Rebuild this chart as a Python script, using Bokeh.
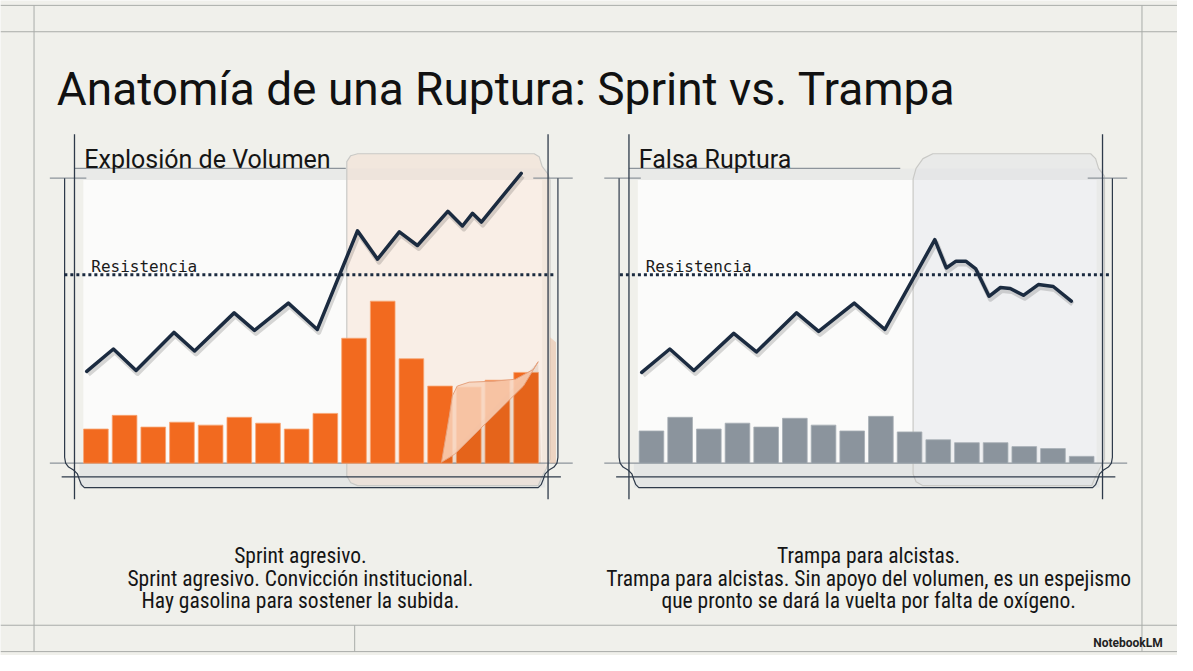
from bokeh.plotting import figure
from bokeh.models import Range1d, Label
from bokeh.embed import file_html
from bokeh.resources import INLINE

# ---------------- data ----------------
title = "Anatomía de una Ruptura: Sprint vs. Trampa"
panel_titles = ["Explosión de Volumen", "Falsa Ruptura"]
resistance_label = "Resistencia"
captions_left = ["Sprint agresivo.",
                 "Sprint agresivo. Convicción institucional.",
                 "Hay gasolina para sostener la subida."]
captions_right = ["Trampa para alcistas.",
                  "Trampa para alcistas. Sin apoyo del volumen, es un espejismo",
                  "que pronto se dará la vuelta por falta de oxígeno."]

bar_idx = list(range(16))
vol_sprint = [35, 49, 37, 42, 39, 47, 41, 35, 51, 128, 166, 107, 79, 78, 85, 93]
vol_trap = [33, 47, 35, 41, 37, 46, 39, 33, 48, 32, 24, 21, 21, 17, 15, 7]

price_x_sprint = [-0.32, 0.61, 1.40, 2.72, 3.44, 4.82, 5.53, 6.71, 7.72, 9.12,
                  9.82, 10.58, 11.21, 12.27, 12.78, 13.13, 13.44, 14.83]
price_sprint = [94, 117, 95, 134, 115, 154, 136, 164, 137, 238,
                209, 237, 223, 258, 243, 256, 247, 297]
price_x_trap = [-0.34, 0.64, 1.48, 2.87, 3.66, 5.06, 5.83, 7.07, 8.14, 9.88,
                10.28, 10.62, 10.96, 11.31, 11.77, 12.17, 12.51, 12.97, 13.49, 14.01, 14.64]
price_trap = [93, 117, 95, 133, 114, 154, 135, 164, 137, 229,
              200, 207, 207, 199, 171, 180, 179, 172, 183, 181, 166]
resistance = 193

# ---------------- layout ----------------
W, H = 1177, 655               # figure size
PW, PH = 1193, 671             # design space (reference pixels)
STEP = 29.07                   # design px per bar slot
BASE = 474                     # baseline row of the charts
LEFT_X0, RIGHT_X0 = 96.7, 659.8
PANEL_DX = 562

BG = "#f0f0eb"
DARK = "#2e3a4a"
GRAY = "#8d949b"
NAVY = "#1b2b40"
ORANGE = "#f26a1f"
BARGRAY = "#8b949d"

p = figure(width=W, height=H, x_range=Range1d(0, PW), y_range=Range1d(PH, 0),
           output_backend="svg", toolbar_location=None, min_border=0,
           background_fill_color=BG, border_fill_color=BG)
p.axis.visible = False
p.grid.visible = False
p.outline_line_color = None


def chart_ranges(name, x0):
    p.extra_x_ranges[name] = Range1d((0 - x0) / STEP, (PW - x0) / STEP)
    p.extra_y_ranges[name] = Range1d(BASE - PH, BASE)
    # shadow ranges (shifted a few px down/right)
    p.extra_y_ranges[name + "s"] = Range1d(BASE - PH + 3, BASE + 3)
    p.extra_x_ranges[name + "s"] = Range1d((0 - x0) / STEP - 0.05, (PW - x0) / STEP - 0.05)


chart_ranges("L", LEFT_X0)
chart_ranges("R", RIGHT_X0)

# ---------------- page frame lines ----------------
p.segment(x0=[0, 0, 0, 0], y0=[5, 32, 640, 667], x1=[PW, PW, PW, PW], y1=[5, 32, 640, 667],
          line_color="#a9aca9", line_width=1)
p.segment(x0=[34, 1157, 359], y0=[5, 5, 640], x1=[34, 1157, 359], y1=[667, 667, 667],
          line_color="#a9aca9", line_width=1)


def panel_back(dx, card_fill, card_alpha, card_pts):
    p.quad(left=84 + dx, right=549 + dx, top=184, bottom=BASE, fill_color="#fbfbfa", line_color=None)
    p.quad(left=75 + dx, right=555 + dx, top=172, bottom=184, fill_color="#e9eae8", line_color=None)
    p.quad(left=80 + dx, right=552 + dx, top=BASE, bottom=499, fill_color="#e2e4e4", line_color=None,
           fill_alpha=0.9)
    xs = [x for x, _ in card_pts]
    ys = [y for _, y in card_pts]
    p.patch(xs, ys, fill_color=card_fill, fill_alpha=card_alpha, line_color="#c9c9c6", line_width=1.2)


def panel_lines(dx):
    p.segment(x0=[50 + dx, 50 + dx, 540 + dx, 75 + dx],
              y0=[BASE, 182, 182, 172],
              x1=[580 + dx, 87 + dx, 580 + dx, 350 + dx],
              y1=[BASE, 182, 182, 172], line_color=GRAY, line_width=1.3)
    p.segment(x0=[75 + dx, 555 + dx], y0=[137, 137], x1=[75 + dx, 555 + dx], y1=[511, 511],
              line_color=DARK, line_width=1.3)
    p.segment(x0=[62 + dx], y0=[488], x1=[568 + dx], y1=[488], line_color=DARK, line_width=1.3)
    lx = [65, 65, 66, 69, 74, 78, 80, 82, 85, 545, 548, 550, 552, 556, 561, 564, 565, 565]
    ly = [182, 468, 474, 478, 481, 485, 491, 496, 499, 499, 496, 491, 485, 481, 478, 474, 468, 182]
    p.line([x + dx for x in lx], ly, line_color=DARK, line_width=1.2)


left_card = [(351, 165), (355, 159), (362, 157), (541, 157), (546, 160), (549, 170), (555, 178),
             (557, 184), (557, 470), (553, 480), (548, 490), (545, 497), (362, 497), (355, 494),
             (351, 487)]
right_card = [(925, 183), (928, 172), (935, 162), (945, 157), (1105, 157), (1110, 162), (1113, 172),
              (1119, 180), (1119, 470), (1113, 482), (1109, 490), (1106, 497), (935, 497), (928, 493),
              (925, 485)]

panel_back(0, "#f6dccb", 0.42, left_card)
panel_back(PANEL_DX, "#dfe2e5", 0.4, right_card)
panel_lines(0)
panel_lines(PANEL_DX)

# ---------------- bars ----------------
p.vbar(x=bar_idx, top=vol_sprint, bottom=0, width=0.86, fill_color=ORANGE,
       line_color="#f7a572", line_width=0.8, x_range_name="L", y_range_name="L")
p.vbar(x=bar_idx, top=vol_trap, bottom=0, width=0.86, fill_color=BARGRAY,
       line_color="#a7aeb5", line_width=0.8, x_range_name="R", y_range_name="R")

# page curl on the left card
p.patch([545, 548, 447], [370, 474, 474], fill_color="#7a2d00", fill_alpha=0.10, line_color=None)
p.patch([463, 475, 500, 522, 540, 545, 530, 505, 480, 460, 447, 450, 455, 458],
        [395, 391, 390, 388, 378, 370, 395, 420, 445, 465, 473, 455, 425, 405],
        fill_color="#f8d2bb", fill_alpha=0.85, line_color="#e6a27e", line_width=1)
p.patch([557, 563, 563, 557], [345, 350, 474, 474], fill_color="#e9b79a", fill_alpha=0.5, line_color=None)

# ---------------- resistance ----------------
for name in ["L", "R"]:
    p.segment(x0=[-1.1], y0=[resistance], x1=[16.05], y1=[resistance], line_color=NAVY,
              line_width=3, line_dash="3 3", x_range_name=name, y_range_name=name)

# ---------------- price lines ----------------
for xs, ys, name in [(price_x_sprint, price_sprint, "L"), (price_x_trap, price_trap, "R")]:
    p.line(xs, ys, line_color="#000000", line_alpha=0.15, line_width=5, line_join="round",
           x_range_name=name + "s", y_range_name=name + "s")
    p.line(xs, ys, line_color=NAVY, line_width=3.5, line_join="round", line_cap="round",
           x_range_name=name, y_range_name=name)

# ---------------- texts ----------------
p.add_layout(Label(x=57, y=91, text=title, text_font="Roboto", text_font_size="46px",
                   text_color="#111111", text_baseline="alphabetic"))
for dx, t in zip([0, PANEL_DX], panel_titles):
    p.add_layout(Label(x=85 + dx, y=163, text=t, text_font="Roboto", text_font_size="25px",
                       text_color="#151515", text_baseline="alphabetic"))
    p.add_layout(Label(x=92 + dx, y=273, text=resistance_label, text_font="DejaVu Sans Mono",
                       text_font_size="16px", text_color="#1a1a1a", text_baseline="alphabetic"))

cap_font = "'Liberation Sans Narrow', 'Roboto Condensed', Roboto"
for cx, lines in [(304, captions_left), (880, captions_right)]:
    for i, t in enumerate(lines):
        p.add_layout(Label(x=cx, y=569 + 23 * i, text=t, text_font=cap_font, text_font_size="21.5px",
                           text_color="#151515", text_align="center", text_baseline="alphabetic"))

p.add_layout(Label(x=1178, y=658, text="NotebookLM", text_font="Roboto", text_font_size="12px",
                   text_font_style="bold", text_color="#222222", text_align="right",
                   text_baseline="alphabetic"))

open("out.html", "w").write(file_html(p, INLINE))
